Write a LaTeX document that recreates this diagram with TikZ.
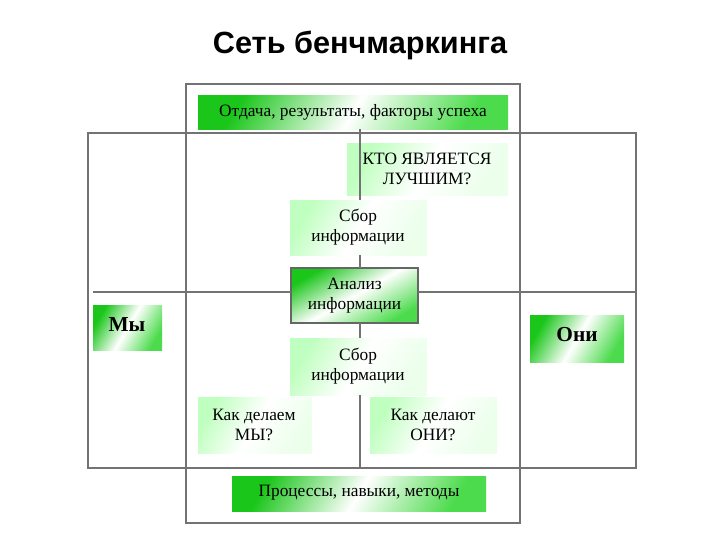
\documentclass[tikz,border=0pt]{standalone}
\usepackage{fontspec}
\setmainfont{Liberation Serif}
\newfontfamily\arialf{Liberation Sans}
\begin{document}
\begin{tikzpicture}[x=0.75pt,y=-0.75pt,
  frame/.style={draw=black!55,line width=1.4pt},
  ln/.style={draw=black!55,line width=1.2pt},
  gbox/.style={left color=green!75!black!90,right color=green!80!black!70,middle color=white,shading angle=60,text=black},
  pbox/.style={left color=green!25,right color=green!8,middle color=white,shading angle=60,text=black},
  lbl/.style={align=center,font=\fontsize{13}{15}\selectfont}]
\useasboundingbox (0,0) rectangle (720,540);
\node[font=\arialf\bfseries\fontsize{23}{26}\selectfont] (title) at (360,45) {Сеть бенчмаркинга};
% frames
\draw[frame] (186,84) rectangle (520,523);
\draw[frame] (88,133) rectangle (636,468);
% shaded boxes
\shade[gbox] (198,95) rectangle (508,129);
\shade[pbox] (347,143) rectangle (508,195);
\shade[pbox] (290,200) rectangle (427,255);
\shade[gbox,shading angle=30] (291,268) rectangle (418,323);
\draw[draw=black!60,line width=0.8pt] (291,268) rectangle (418,323);
\shade[gbox] (93,305) rectangle (162,350);
\shade[gbox] (530,315) rectangle (624,362);
\shade[pbox] (290,338) rectangle (427,395);
\shade[pbox] (198,397) rectangle (312,453);
\shade[pbox] (370,397) rectangle (497,453);
\shade[gbox] (232,476) rectangle (486,511);
% labels
\node[lbl] (res) at (353,112) {Отдача, результаты, факторы успеха};
\node[lbl] (who) at (427,169) {КТО ЯВЛЯЕТСЯ\\ЛУЧШИМ?};
\node[lbl] (s1) at (358,227) {Сбор\\информации};
\node[lbl,minimum width=95pt,minimum height=41pt] (an) at (354.5,295.5) {Анализ\\информации};
\node[lbl,font=\bfseries\fontsize{16}{18}\selectfont] (we) at (127,325) {Мы};
\node[lbl,font=\bfseries\fontsize{16}{18}\selectfont] (they) at (577,335) {Они};
\node[lbl] (s2) at (358,366) {Сбор\\информации};
\node[lbl] (howwe) at (254,425) {Как делаем\\МЫ?};
\node[lbl] (howthey) at (433,425) {Как делают\\ОНИ?};
\node[lbl] (proc) at (359,493) {Процессы, навыки, методы};
% connectors
\coordinate (t0) at (360,129);
\coordinate (t1) at (360,200);
\coordinate (t2) at (360,255);
\coordinate (t3) at (360,268);
\coordinate (t4) at (360,323);
\coordinate (t5) at (360,338);
\coordinate (t6) at (360,395);
\coordinate (t7) at (360,468);
\draw[ln] (t0) -- (t1);
\draw[ln] (t2) -- (t3);
\draw[ln] (t4) -- (t5);
\draw[ln] (t6) -- (t7);
\coordinate (lft) at (93,292);
\coordinate (rgt) at (636,292);
\draw[ln] (lft) -- (an.west |- lft);
\draw[ln] (an.east |- rgt) -- (rgt);
\end{tikzpicture}
\end{document}
